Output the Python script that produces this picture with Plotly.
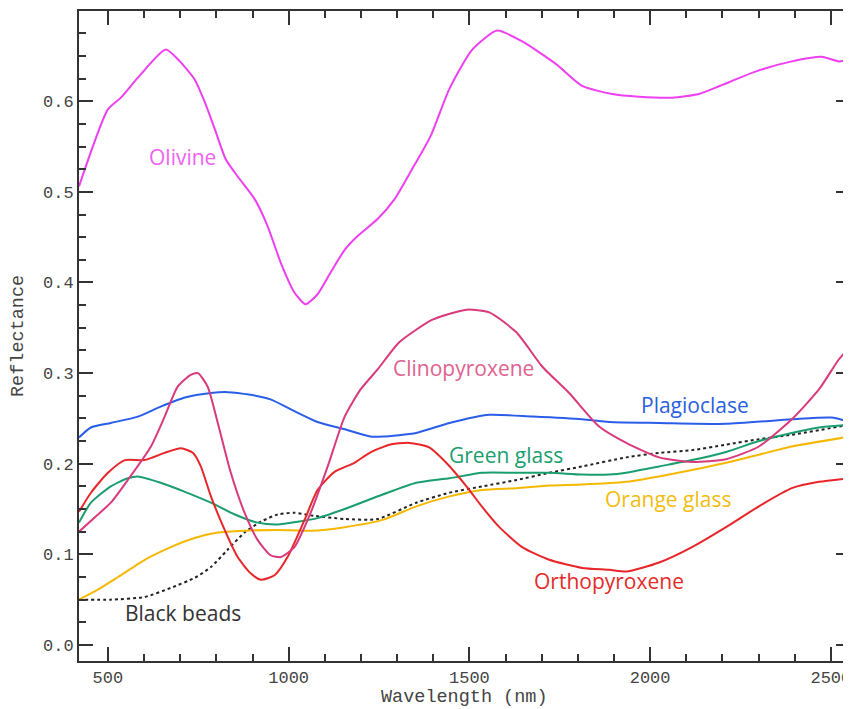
import plotly.graph_objects as go

# ---- data (wavelength nm, reflectance) ----
olivine_x = [420, 500, 536, 583, 660, 699, 740, 768, 796, 826, 859, 906, 942, 978, 1016, 1047, 1080, 1116, 1155, 1190, 1246, 1293, 1337, 1392, 1445, 1508, 1577, 1646, 1740, 1812, 1895, 1969, 2061, 2135, 2218, 2293, 2392, 2475, 2522, 2552]
olivine_y = [0.506, 0.591, 0.604, 0.626, 0.657, 0.644, 0.624, 0.599, 0.569, 0.536, 0.517, 0.492, 0.462, 0.422, 0.389, 0.376, 0.387, 0.411, 0.436, 0.451, 0.470, 0.492, 0.522, 0.561, 0.614, 0.657, 0.678, 0.666, 0.641, 0.617, 0.608, 0.605, 0.604, 0.608, 0.621, 0.633, 0.644, 0.649, 0.644, 0.646]

plag_x = [420, 453, 508, 583, 646, 713, 785, 831, 895, 950, 1016, 1080, 1155, 1226, 1260, 1353, 1445, 1555, 1674, 1812, 1887, 2025, 2210, 2392, 2502, 2552]
plag_y = [0.229, 0.240, 0.245, 0.252, 0.263, 0.273, 0.278, 0.279, 0.276, 0.271, 0.258, 0.246, 0.238, 0.230, 0.230, 0.234, 0.245, 0.254, 0.252, 0.249, 0.246, 0.245, 0.244, 0.249, 0.251, 0.246]

cpx_x = [420, 464, 508, 555, 619, 657, 693, 729, 749, 776, 804, 840, 878, 914, 950, 978, 1016, 1061, 1108, 1155, 1199, 1246, 1306, 1398, 1492, 1555, 1630, 1702, 1776, 1859, 1934, 2025, 2116, 2210, 2301, 2392, 2467, 2522, 2552]
cpx_y = [0.125, 0.141, 0.157, 0.182, 0.219, 0.252, 0.285, 0.298, 0.300, 0.285, 0.245, 0.190, 0.146, 0.116, 0.099, 0.097, 0.108, 0.146, 0.197, 0.252, 0.282, 0.304, 0.334, 0.359, 0.370, 0.367, 0.345, 0.307, 0.278, 0.241, 0.223, 0.207, 0.202, 0.205, 0.219, 0.249, 0.282, 0.315, 0.329]

opx_x = [420, 453, 500, 547, 602, 657, 702, 735, 757, 785, 823, 859, 895, 923, 961, 997, 1044, 1080, 1127, 1182, 1224, 1279, 1334, 1389, 1436, 1492, 1536, 1583, 1646, 1721, 1812, 1887, 1934, 2025, 2116, 2210, 2301, 2392, 2467, 2552]
opx_y = [0.147, 0.168, 0.190, 0.204, 0.204, 0.212, 0.217, 0.212, 0.197, 0.164, 0.127, 0.097, 0.079, 0.072, 0.077, 0.097, 0.138, 0.171, 0.191, 0.201, 0.212, 0.221, 0.223, 0.218, 0.201, 0.175, 0.152, 0.130, 0.108, 0.094, 0.085, 0.083, 0.081, 0.091, 0.108, 0.130, 0.153, 0.173, 0.180, 0.184]

green_x = [420, 453, 508, 555, 583, 646, 713, 785, 851, 914, 970, 1025, 1080, 1155, 1260, 1353, 1445, 1536, 1630, 1721, 1812, 1887, 1934, 2025, 2116, 2210, 2301, 2392, 2467, 2552]
green_y = [0.135, 0.157, 0.175, 0.184, 0.186, 0.179, 0.169, 0.157, 0.144, 0.135, 0.133, 0.136, 0.140, 0.150, 0.166, 0.179, 0.184, 0.190, 0.190, 0.190, 0.188, 0.188, 0.190, 0.197, 0.204, 0.213, 0.225, 0.234, 0.240, 0.243]

orange_x = [420, 472, 528, 602, 674, 740, 804, 878, 970, 1061, 1155, 1260, 1353, 1445, 1536, 1630, 1721, 1812, 1934, 2025, 2116, 2210, 2301, 2392, 2552]
orange_y = [0.050, 0.061, 0.075, 0.094, 0.108, 0.118, 0.124, 0.126, 0.127, 0.126, 0.130, 0.138, 0.153, 0.164, 0.171, 0.173, 0.176, 0.177, 0.180, 0.186, 0.193, 0.201, 0.210, 0.219, 0.230]

black_x = [420, 508, 602, 674, 740, 785, 831, 878, 923, 970, 1016, 1061, 1155, 1246, 1353, 1445, 1536, 1630, 1721, 1812, 1934, 2025, 2116, 2210, 2301, 2392, 2552]
black_y = [0.050, 0.050, 0.053, 0.063, 0.074, 0.086, 0.105, 0.124, 0.136, 0.144, 0.146, 0.143, 0.139, 0.139, 0.157, 0.168, 0.175, 0.182, 0.190, 0.197, 0.207, 0.212, 0.215, 0.221, 0.227, 0.232, 0.243]

# label name, x, y, colour
labels = [
    ("Olivine", 707, 0.538, "#f062f0"),
    ("Clinopyroxene", 1483, 0.306, "#e0628f"),
    ("Plagioclase", 2124, 0.265, "#2a5ee0"),
    ("Green glass", 1602, 0.210, "#1a9e6e"),
    ("Orange glass", 2052, 0.161, "#f2bc10"),
    ("Orthopyroxene", 1887, 0.071, "#e42a2a"),
    ("Black beads", 707, 0.035, "#333333"),
]

series = [
    ("Black beads", black_x, black_y, "#222222", "dot"),
    ("Orange glass", orange_x, orange_y, "#f5b800", "solid"),
    ("Green glass", green_x, green_y, "#1a9e6e", "solid"),
    ("Plagioclase", plag_x, plag_y, "#2a5ee8", "solid"),
    ("Orthopyroxene", opx_x, opx_y, "#e8262a", "solid"),
    ("Clinopyroxene", cpx_x, cpx_y, "#d83a7c", "solid"),
    ("Olivine", olivine_x, olivine_y, "#ee3ff0", "solid"),
]

fig = go.Figure()
for name, xs, ys, col, dash in series:
    fig.add_trace(go.Scatter(
        x=xs, y=ys, mode="lines", name=name,
        line=dict(color=col, width=2, dash=dash, shape="spline", smoothing=0.6),
        showlegend=False, hoverinfo="skip"))

for text, lx, ly, col in labels:
    fig.add_annotation(x=lx, y=ly, text=text, showarrow=False,
                       font=dict(family="Open Sans, sans-serif", size=21, color=col),
                       xanchor="center", yanchor="middle")

axis_font = dict(family="Liberation Mono, DejaVu Sans Mono, monospace", size=17, color="#444444")
title_font = dict(family="Liberation Mono, DejaVu Sans Mono, monospace", size=18.5, color="#444444")

# axis titles as paper annotations
fig.add_annotation(x=0.5, y=0, xref="paper", yref="paper", text="Wavelength (nm)",
                   showarrow=False, xanchor="center", yanchor="middle", yshift=-36,
                   font=title_font)
fig.add_annotation(x=0, y=0.5, xref="paper", yref="paper", text="Reflectance",
                   showarrow=False, xanchor="center", yanchor="middle", xshift=-61,
                   textangle=-90, font=title_font)

# the page body has an 8px margin, so the figure is sized/offset to compensate
fig.update_layout(
    width=843, height=701,
    margin=dict(l=71, r=1, t=3, b=48),
    paper_bgcolor="white", plot_bgcolor="white",
    xaxis=dict(
        range=[420, 2553], dtick=500, tick0=0, automargin=False,
        ticklabeloverflow="allow",
        ticks="inside", ticklen=14, tickwidth=2, tickcolor="#333333",
        minor=dict(dtick=100, ticks="inside", ticklen=7, tickwidth=2, tickcolor="#333333"),
        showline=True, linewidth=2, linecolor="#333333", mirror="allticks",
        showgrid=False, zeroline=False,
        tickfont=axis_font,
    ),
    yaxis=dict(
        range=[-0.0177, 0.6996], dtick=0.1, tick0=0, tickformat=".1f", automargin=False,
        ticks="inside", ticklen=14, tickwidth=2, tickcolor="#333333",
        minor=dict(dtick=0.025, ticks="inside", ticklen=7, tickwidth=2, tickcolor="#333333"),
        showline=True, linewidth=2, linecolor="#333333", mirror="allticks",
        showgrid=False, zeroline=False,
        tickfont=axis_font,
    ),
)

fig.write_html("out.html")
